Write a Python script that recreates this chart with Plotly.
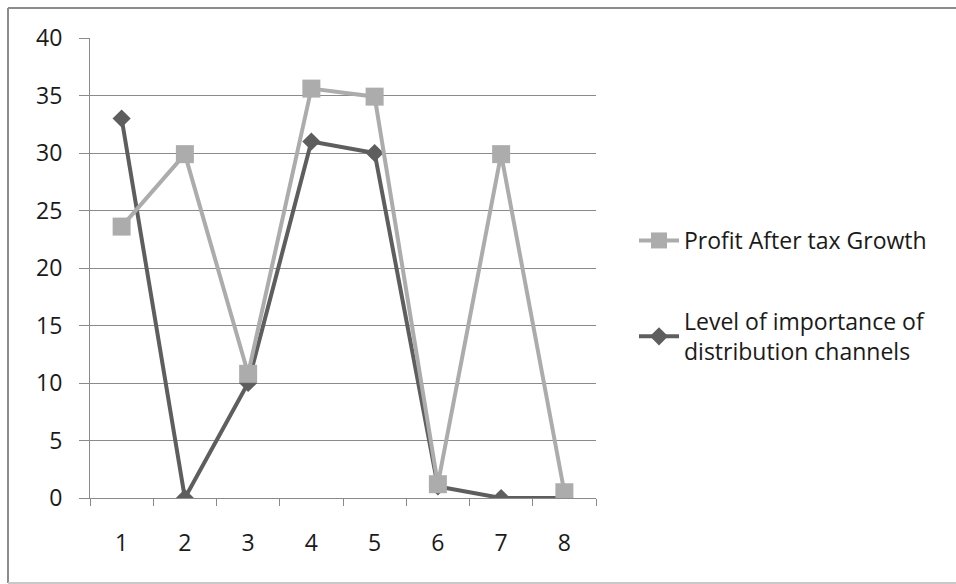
import plotly.graph_objects as go

categories = ["1", "2", "3", "4", "5", "6", "7", "8"]
profit_growth = [23.6, 29.9, 10.8, 35.6, 34.9, 1.2, 29.9, 0.5]
importance_level = [33, 0, 10, 31, 30, 1, 0, 0]
y_ticks = [0, 5, 10, 15, 20, 25, 30, 35, 40]

W, H = 956, 584
L, R, T, B = 90, 360, 38, 86
pw, ph = W - L - R, H - T - B

FONT = "Open Sans"
FS = 23
TXT = "#1a1a1a"
GRID = "#8a8a8a"

fig = go.Figure()

# dark series drawn first so the light squares sit on top
fig.add_trace(go.Scatter(
    x=categories, y=importance_level, mode="lines+markers",
    name="Level of importance of<br>distribution channels",
    line=dict(color="#5e5e5e", width=4),
    marker=dict(symbol="diamond", size=14, color="#5e5e5e"),
    legendgroup="b", legendrank=2,
))
fig.add_trace(go.Scatter(
    x=categories, y=profit_growth, mode="lines+markers",
    name="Profit After tax Growth",
    line=dict(color="#acacac", width=4),
    marker=dict(symbol="square", size=18, color="#acacac"),
    legendgroup="a", legendrank=1,
))

# outer chart frame (left, top, bottom edges)
px2x = lambda p: (p - L) / pw
py2y = lambda p: 1 - (p - T) / ph
x_left, x_right = px2x(8), px2x(W + 20)
y_top, y_bot = py2y(8), py2y(583)
for x0, y0, x1, y1, col in [
    (x_left, y_bot, x_left, y_top, "#8c8c8c"),
    (x_left, y_top, x_right, y_top, "#8c8c8c"),
    (x_left, y_bot, x_right, y_bot, "#c8c8c8"),
]:
    fig.add_shape(type="line", xref="paper", yref="paper",
                  x0=x0, y0=y0, x1=x1, y1=y1,
                  line=dict(color=col, width=2), layer="below")

fig.update_layout(
    width=W, height=H,
    margin=dict(l=L, r=R, t=T, b=B, autoexpand=False),
    paper_bgcolor="white", plot_bgcolor="white",
    font=dict(family=FONT, size=FS, color=TXT),
    showlegend=True,
    legend=dict(
        x=px2x(634), y=py2y(219), xanchor="left", yanchor="top",
        traceorder="grouped", tracegroupgap=48,
        itemwidth=40, font=dict(family=FONT, size=FS, color=TXT),
        bgcolor="rgba(0,0,0,0)",
    ),
    xaxis=dict(
        type="category", range=[-0.5, 7.5],
        tickson="boundaries", ticks="outside",
        ticklen=7, tickcolor=GRID, tickwidth=1,
        showline=True, linecolor=GRID, linewidth=1,
        showgrid=False, zeroline=False,
        ticklabelstandoff=24,
        tickfont=dict(family=FONT, size=FS, color=TXT),
    ),
    yaxis=dict(
        range=[0, 40], tickvals=y_ticks, ticks="outside",
        ticklen=10, tickcolor=GRID, tickwidth=1,
        showline=True, linecolor=GRID, linewidth=1,
        showgrid=True, gridcolor=GRID, gridwidth=1,
        zeroline=False, ticklabelstandoff=12,
        tickfont=dict(family=FONT, size=FS, color=TXT),
    ),
)

fig.write_html("out.html")
